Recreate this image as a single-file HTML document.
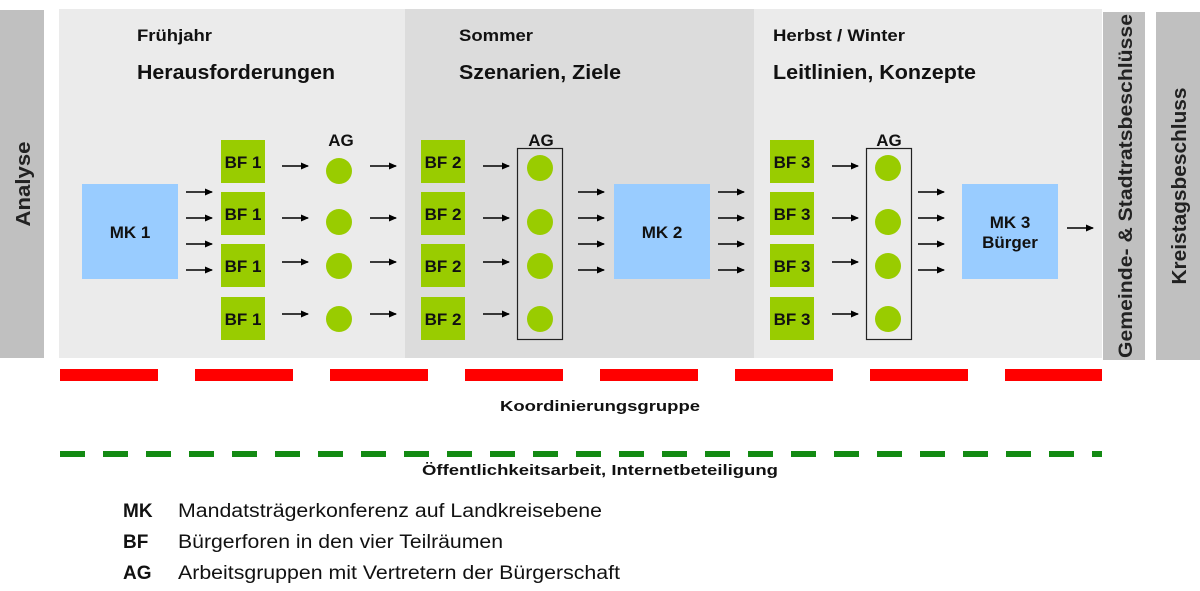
<!DOCTYPE html>
<html><head><meta charset="utf-8"><style>
html,body{margin:0;padding:0;background:#fff;width:1200px;height:591px;overflow:hidden}
svg{display:block}
text{font-family:"Liberation Sans",Arial,sans-serif}
</style></head><body>
<svg width="1200" height="591" viewBox="0 0 1200 591" xmlns="http://www.w3.org/2000/svg">
<defs>
<marker id="ah" markerWidth="8" markerHeight="8" refX="7" refY="4" orient="auto" markerUnits="userSpaceOnUse">
<path d="M0,0.5 L8,4 L0,7.5 Z" fill="#000"/></marker>
</defs>
<rect x="0" y="10" width="44" height="348" fill="#c0c0c0"/>
<text transform="translate(30,184) rotate(-90)" text-anchor="middle" font-size="20" font-weight="bold" fill="#222" textLength="85" lengthAdjust="spacingAndGlyphs">Analyse</text>
<rect x="1103" y="12" width="42" height="348" fill="#c0c0c0"/>
<text transform="translate(1132,186) rotate(-90)" text-anchor="middle" font-size="19" font-weight="bold" fill="#222" textLength="344" lengthAdjust="spacingAndGlyphs">Gemeinde- &amp; Stadtratsbeschlüsse</text>
<rect x="1156" y="12" width="44" height="348" fill="#c0c0c0"/>
<text transform="translate(1186,186) rotate(-90)" text-anchor="middle" font-size="20" font-weight="bold" fill="#222" textLength="197" lengthAdjust="spacingAndGlyphs">Kreistagsbeschluss</text>
<rect x="59" y="9" width="346" height="349" fill="#ebebeb"/>
<rect x="405" y="9" width="349" height="349" fill="#dcdcdc"/>
<rect x="754" y="9" width="348" height="349" fill="#ebebeb"/>
<g font-weight="bold" fill="#111">
<text x="137" y="41" font-size="17" textLength="75" lengthAdjust="spacingAndGlyphs">Frühjahr</text>
<text x="137" y="79" font-size="20" textLength="198" lengthAdjust="spacingAndGlyphs">Herausforderungen</text>
<text x="459" y="41" font-size="17" textLength="74" lengthAdjust="spacingAndGlyphs">Sommer</text>
<text x="459" y="79" font-size="20" textLength="162" lengthAdjust="spacingAndGlyphs">Szenarien, Ziele</text>
<text x="773" y="41" font-size="17" textLength="132" lengthAdjust="spacingAndGlyphs">Herbst / Winter</text>
<text x="773" y="79" font-size="20" textLength="203" lengthAdjust="spacingAndGlyphs">Leitlinien, Konzepte</text>
</g>
<g fill="#99ccff">
<rect x="82" y="184" width="96" height="95"/>
<rect x="614" y="184" width="96" height="95"/>
<rect x="962" y="184" width="96" height="95"/>
</g>
<g font-weight="bold" font-size="17" fill="#111" text-anchor="middle">
<text x="130" y="238">MK 1</text>
<text x="662" y="238">MK 2</text>
<text x="1010" y="228">MK 3</text>
<text x="1010" y="248">Bürger</text>
</g>
<g fill="#99cc00">
<rect x="221" y="140" width="44" height="43"/><rect x="221" y="192" width="44" height="43"/><rect x="221" y="244" width="44" height="43"/><rect x="221" y="297" width="44" height="43"/>
<rect x="421" y="140" width="44" height="43"/><rect x="421" y="192" width="44" height="43"/><rect x="421" y="244" width="44" height="43"/><rect x="421" y="297" width="44" height="43"/>
<rect x="770" y="140" width="44" height="43"/><rect x="770" y="192" width="44" height="43"/><rect x="770" y="244" width="44" height="43"/><rect x="770" y="297" width="44" height="43"/>
</g>
<g font-weight="bold" font-size="17" fill="#111" text-anchor="middle">
<text x="243" y="168">BF 1</text><text x="243" y="220">BF 1</text><text x="243" y="272">BF 1</text><text x="243" y="325">BF 1</text>
<text x="443" y="168">BF 2</text><text x="443" y="220">BF 2</text><text x="443" y="272">BF 2</text><text x="443" y="325">BF 2</text>
<text x="792" y="168">BF 3</text><text x="792" y="220">BF 3</text><text x="792" y="272">BF 3</text><text x="792" y="325">BF 3</text>
<text x="341" y="146">AG</text><text x="541" y="146">AG</text><text x="889" y="146">AG</text>
</g>
<rect x="517.5" y="148.5" width="45" height="191" fill="none" stroke="#222" stroke-width="1.2"/>
<rect x="866.5" y="148.5" width="45" height="191" fill="none" stroke="#222" stroke-width="1.2"/>
<g fill="#99cc00">
<circle cx="339" cy="171" r="13"/><circle cx="339" cy="222" r="13"/><circle cx="339" cy="266" r="13"/><circle cx="339" cy="319" r="13"/>
<circle cx="540" cy="168" r="13"/><circle cx="540" cy="222" r="13"/><circle cx="540" cy="266" r="13"/><circle cx="540" cy="319" r="13"/>
<circle cx="888" cy="168" r="13"/><circle cx="888" cy="222" r="13"/><circle cx="888" cy="266" r="13"/><circle cx="888" cy="319" r="13"/>
</g>
<g stroke="#000" stroke-width="1.5" marker-end="url(#ah)">
<line x1="186" y1="192" x2="212" y2="192"/><line x1="186" y1="218" x2="212" y2="218"/><line x1="186" y1="244" x2="212" y2="244"/><line x1="186" y1="270" x2="212" y2="270"/>
<line x1="282" y1="166" x2="308" y2="166"/><line x1="282" y1="218" x2="308" y2="218"/><line x1="282" y1="262" x2="308" y2="262"/><line x1="282" y1="314" x2="308" y2="314"/>
<line x1="370" y1="166" x2="396" y2="166"/><line x1="370" y1="218" x2="396" y2="218"/><line x1="370" y1="262" x2="396" y2="262"/><line x1="370" y1="314" x2="396" y2="314"/>
<line x1="483" y1="166" x2="509" y2="166"/><line x1="483" y1="218" x2="509" y2="218"/><line x1="483" y1="262" x2="509" y2="262"/><line x1="483" y1="314" x2="509" y2="314"/>
<line x1="578" y1="192" x2="604" y2="192"/><line x1="578" y1="218" x2="604" y2="218"/><line x1="578" y1="244" x2="604" y2="244"/><line x1="578" y1="270" x2="604" y2="270"/>
<line x1="718" y1="192" x2="744" y2="192"/><line x1="718" y1="218" x2="744" y2="218"/><line x1="718" y1="244" x2="744" y2="244"/><line x1="718" y1="270" x2="744" y2="270"/>
<line x1="832" y1="166" x2="858" y2="166"/><line x1="832" y1="218" x2="858" y2="218"/><line x1="832" y1="262" x2="858" y2="262"/><line x1="832" y1="314" x2="858" y2="314"/>
<line x1="918" y1="192" x2="944" y2="192"/><line x1="918" y1="218" x2="944" y2="218"/><line x1="918" y1="244" x2="944" y2="244"/><line x1="918" y1="270" x2="944" y2="270"/>
<line x1="1067" y1="228" x2="1093" y2="228"/>
</g>
<line x1="60" y1="375" x2="1102" y2="375" stroke="#ff0000" stroke-width="12" stroke-dasharray="98 37"/>
<line x1="60" y1="454" x2="1102" y2="454" stroke="#138a13" stroke-width="6" stroke-dasharray="25 18"/>
<g font-weight="bold" font-size="15" fill="#111" text-anchor="middle">
<text x="600" y="411" textLength="200" lengthAdjust="spacingAndGlyphs">Koordinierungsgruppe</text>
<text x="600" y="475" textLength="356" lengthAdjust="spacingAndGlyphs">Öffentlichkeitsarbeit, Internetbeteiligung</text>
</g>
<g font-size="19" fill="#111">
<text x="123" y="517" font-weight="bold">MK</text>
<text x="178" y="517" textLength="424" lengthAdjust="spacingAndGlyphs">Mandatsträgerkonferenz auf Landkreisebene</text>
<text x="123" y="548" font-weight="bold">BF</text>
<text x="178" y="548" textLength="325" lengthAdjust="spacingAndGlyphs">Bürgerforen in den vier Teilräumen</text>
<text x="123" y="579" font-weight="bold">AG</text>
<text x="178" y="579" textLength="442" lengthAdjust="spacingAndGlyphs">Arbeitsgruppen mit Vertretern der Bürgerschaft</text>
</g>
</svg>
</body></html>
